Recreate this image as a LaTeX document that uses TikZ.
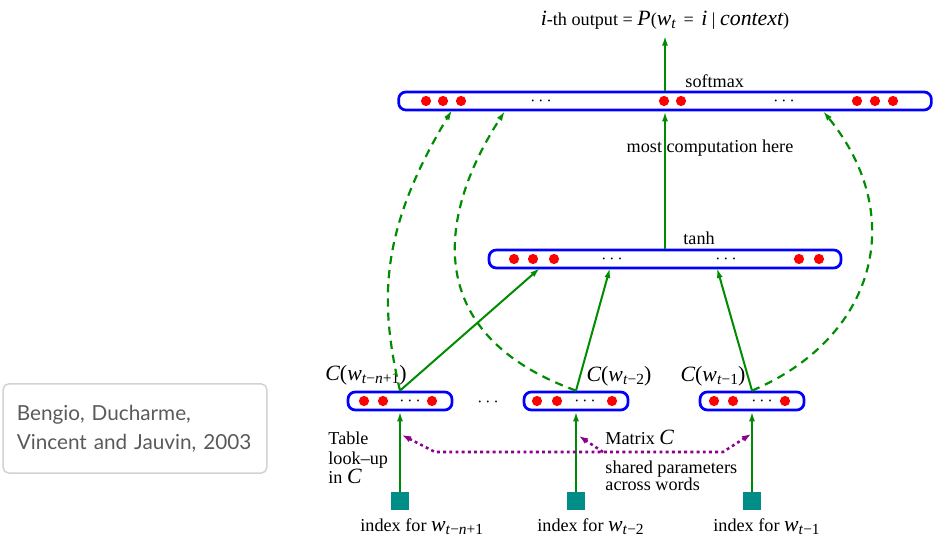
\documentclass[tikz,border=0pt]{standalone}
\usepackage{fontspec}
\setmainfont{Liberation Serif}
\newfontfamily\refsans{Lato}
\usetikzlibrary{arrows.meta}
\definecolor{wgreen}{RGB}{0,140,0}
\definecolor{wblue}{RGB}{0,0,255}
\definecolor{wteal}{RGB}{0,140,135}
\definecolor{wpurple}{RGB}{140,0,140}
\definecolor{wgray}{RGB}{90,90,90}
\newcommand{\vi}[1]{{\fontsize{12}{12}\selectfont\itshape #1}}
\newcommand{\vsub}[1]{\raisebox{-0.35ex}{\fontsize{8.5}{8.5}\selectfont #1}}
\newcommand{\cword}[1]{{\fontsize{12}{12}\selectfont\vi{C}(\vi{w}\vsub{#1})}}

\begin{document}
\begin{tikzpicture}[x=0.55pt,y=-0.55pt,font=\fontsize{10}{12}\selectfont]
\tikzstyle{layer}=[draw=wblue,line width=1.5pt,rounded corners=4pt,minimum height=9.9pt,inner sep=0pt]
\tikzstyle{unit}=[circle,fill=red,minimum size=5.6pt,inner sep=0pt]
\tikzstyle{word}=[fill=wteal,minimum size=9.9pt,inner sep=0pt]
\tikzstyle{feed}=[draw=wgreen,line width=1.1pt,->,>={Latex[length=5.5pt,width=3.3pt]}]
\tikzstyle{reuse}=[feed,line width=1.2pt,dash pattern=on 4.5pt off 3.3pt]
\tikzstyle{share}=[draw=wpurple,line width=1.4pt,dash pattern=on 1.6pt off 1.8pt,>={Latex[length=5pt,width=3.6pt]}]

\useasboundingbox (0,0) rectangle (941,549);

\node[layer,minimum width=293pt] (soft) at (665,101) {};
\node[layer,minimum width=193.6pt] (tanh) at (665,259) {};
\node[layer,minimum width=57.2pt] (e1) at (400,401) {};
\node[layer,minimum width=57.2pt] (e2) at (576,401) {};
\node[layer,minimum width=57.2pt] (e3) at (752,401) {};

\foreach \x in {426,443,461,664,681,857,875,893}
	\node[unit] (s\x) at (\x,101) {};
\foreach \x in {514,533,554,799,819}
	\node[unit] (h\x) at (\x,259) {};
\foreach \x in {364,383,432,537,557,612,714,733,785}
	\node[unit] (c\x) at (\x,401) {};
\foreach \x/\y in {541/101,784/101,612/259,726/259,410/401,585/401,762/401,488/402}
	\node (d\x) at (\x,\y) {$\cdots$};

\foreach \i/\x in {1/400,2/576,3/752}
	\node[word] (q\i) at (\x,501) {};

\node (out) at (665,20) {\vi{i}-th output = \vi{P}(\vi{w}\vsub{\textit{t}} \,=\, \vi{i} | \vi{context})};
\node[anchor=west] (lsoft) at (679,81) {softmax};
\node[anchor=west] (ltanh) at (677,238) {tanh};
\node (lmost) at (710,148) {most computation here};
\node (lc1) at (366,375) {\cword{\textit{t}−\textit{n}+1}};
\node (lc2) at (619,376) {\cword{\textit{t}−2}};
\node (lc3) at (713,376) {\cword{\textit{t}−1}};
\node[anchor=west,align=left,font=\fontsize{10}{10.7}\selectfont] (ltab) at (322,458) {Table\\ look–up\\ in \vi{C}};
\node[anchor=west] (lmat) at (599,437) {Matrix \vi{C}};
\node[anchor=west,align=left,font=\fontsize{10}{9.4}\selectfont] (lshr) at (599,476) {shared parameters\\across words};
\node[anchor=west] (li1) at (354,527) {index for \vi{w}\vsub{\textit{t}−\textit{n}+1}};
\node[anchor=west] (li2) at (531,527) {index for \vi{w}\vsub{\textit{t}−2}};
\node[anchor=west] (li3) at (707,527) {index for \vi{w}\vsub{\textit{t}−1}};

\node[draw=gray!35,line width=0.8pt,rounded corners=3pt,minimum width=145pt,minimum height=49pt,
	text width=130pt,align=left,inner sep=0pt,text=wgray,
	font=\refsans\fontsize{11.4}{16}\selectfont] (cite) at (135,428.5) {Bengio, Ducharme,\\Vincent and Jauvin, 2003};

\coordinate (t1) at (540,268);
\coordinate (t2) at (610,268);
\coordinate (t3) at (717,268);
\coordinate (u1) at (452,110);
\coordinate (u2) at (505,111);
\coordinate (u3) at (823,111);
\coordinate (m1) at (435,452);
\coordinate (m2) at (603,452);
\coordinate (m3) at (723,452);
\coordinate (k1) at (402,435);
\coordinate (k2) at (579,436);
\coordinate (k3) at (751,434);

\draw[feed] (soft) -- (out);
\draw[feed] (tanh) -- (soft);
\foreach \i in {1,2,3} {
	\draw[feed] (q\i) -- (e\i);
	\draw[feed] (e\i.north) -- (t\i);
}
\draw[reuse] (e1.north) to[out=103,in=239,out looseness=0.81,in looseness=1.28] (u1);
\draw[reuse] (e2.north) to[out=160,in=237,out looseness=1.5,in looseness=1.06] (u2);
\draw[reuse] (e3.north) to[out=23,in=309,out looseness=1.18,in looseness=1.22] (u3);

\draw[share,<->] (k1) -- (m1) -- (m3) -- (k3);
\draw[share,->] (m2) -- (k2);
\end{tikzpicture}
\end{document}
